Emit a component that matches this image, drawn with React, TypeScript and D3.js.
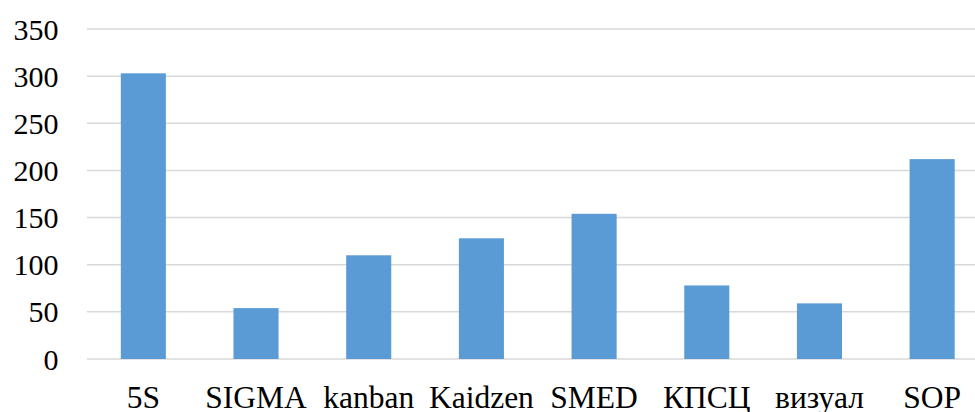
import React from "react";
import * as d3 from "d3";

const categories = ["5S", "SIGMA", "kanban", "Kaidzen", "SMED", "КПСЦ", "визуал", "SOP"];
const values = [303, 54, 110, 128, 154, 78, 59, 212];
const yTicks = [0, 50, 100, 150, 200, 250, 300, 350];

const W = 975;
const H = 412;
const FONT = "Liberation Serif";

export default function App() {
  const x = d3.scaleBand<string>().domain(categories).range([87, 988.5]).paddingInner(0.6).paddingOuter(0.3);
  const y = d3.scaleLinear().domain([0, 350]).range([359, 29]);
  return (
    <svg width={W} height={H} style={{ position: "absolute", left: 0, top: 0 }}>
      <rect x={0} y={0} width={W} height={H} fill="#fff" />
      {yTicks.map((t) => (
        <line key={"g" + t} x1={87} x2={W} y1={y(t)} y2={y(t)} stroke="#D9D9D9" strokeWidth={1.5} />
      ))}
      {yTicks.map((t) => (
        <text key={"t" + t} x={58.5} y={y(t) + 10.5} textAnchor="end" style={{ fontFamily: FONT }} fontSize={30} fill="#000">
          {t}
        </text>
      ))}
      {categories.map((c, i) => (
        <rect
          key={c}
          x={x(c)!}
          y={y(values[i])}
          width={x.bandwidth()}
          height={y(0) - y(values[i])}
          fill="#5B9BD5"
        />
      ))}
      {categories.map((c) => (
        <text key={"x" + c} x={x(c)! + x.bandwidth() / 2} y={408} textAnchor="middle" style={{ fontFamily: FONT }} fontSize={31.5} fill="#000">
          {c}
        </text>
      ))}
    </svg>
  );
}
